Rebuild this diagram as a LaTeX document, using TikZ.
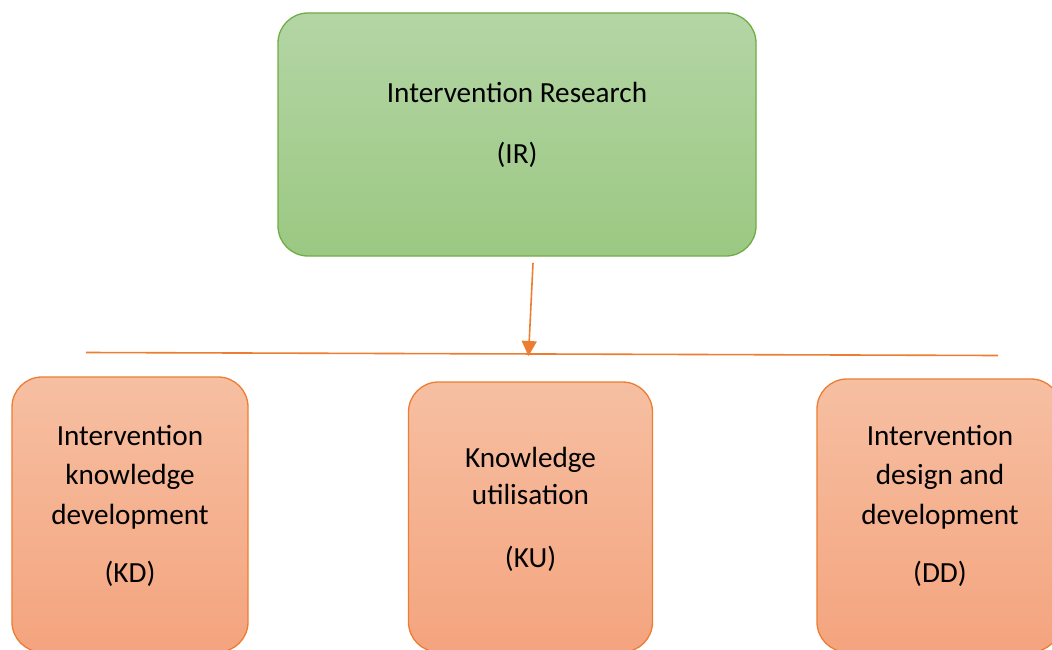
\documentclass[tikz,border=0pt]{standalone}
\usepackage{fontspec}
\setmainfont{Carlito}
\usetikzlibrary{arrows.meta}
\definecolor{gtop}{HTML}{B4D5A5}
\definecolor{gbot}{HTML}{9BC882}
\definecolor{gline}{HTML}{70AD47}
\definecolor{otop}{HTML}{F6BFA2}
\definecolor{obot}{HTML}{F4A47E}
\definecolor{oline}{HTML}{ED7D31}
\tikzset{
  greenbox/.style={draw=gline, line width=1.3pt, rounded corners=30pt, top color=gtop, bottom color=gbot, inner sep=0pt},
  orangebox/.style={draw=oline, line width=1.3pt, rounded corners=30pt, top color=otop, bottom color=obot, inner sep=0pt},
  txt/.style={anchor=base, inner sep=0pt, font=\fontsize{29.2}{32}\selectfont, text=black},
  conn/.style={draw=oline, line width=1.6pt},
}
\begin{document}
\begin{tikzpicture}[x=1pt, y=-1pt]
\useasboundingbox (0,0) rectangle (1052,650);
\clip (0,0) rectangle (1052,650);
% top box
\node[greenbox, minimum width=478pt, minimum height=243pt] (ir) at (517,134.5) {};
\node[txt] (irt1) at (517,103) {Intervention Research};
\node[txt] (irt2) at (517,164) {(IR)};
% bottom boxes (bottom edge at the frame)
\node[orangebox, minimum width=236pt, minimum height=275pt] (kd) at (130,514.5) {};
\node[orangebox, minimum width=244pt, minimum height=270pt] (ku) at (530.5,517) {};
\node[orangebox, minimum width=244pt, minimum height=273pt] (dd) at (939,515.5) {};
% texts
\node[txt] (kd1) at (130,445) {Intervention};
\node[txt] (kd2) at (130,484.5) {knowledge};
\node[txt] (kd3) at (130,524) {development};
\node[txt] (kd4) at (130,582) {(KD)};
\node[txt] (ku1) at (530.5,467) {Knowledge};
\node[txt] (ku2) at (530.5,504) {utilisation};
\node[txt] (ku3) at (530.5,567) {(KU)};
\node[txt] (dd1) at (940,445) {Intervention};
\node[txt] (dd2) at (940,484.5) {design and};
\node[txt] (dd3) at (940,524) {development};
\node[txt] (dd4) at (940,582) {(DD)};
% connectors
\coordinate (arrowstart) at (533,263);
\coordinate (arrowend) at (528.5,356);
\coordinate (lineleft) at (86,352.5);
\coordinate (lineright) at (998,355.5);
\draw[conn] (lineleft) -- (lineright);
\draw[conn, -{Triangle[length=15pt, width=15pt]}] (arrowstart) -- (arrowend);
\end{tikzpicture}
\end{document}
